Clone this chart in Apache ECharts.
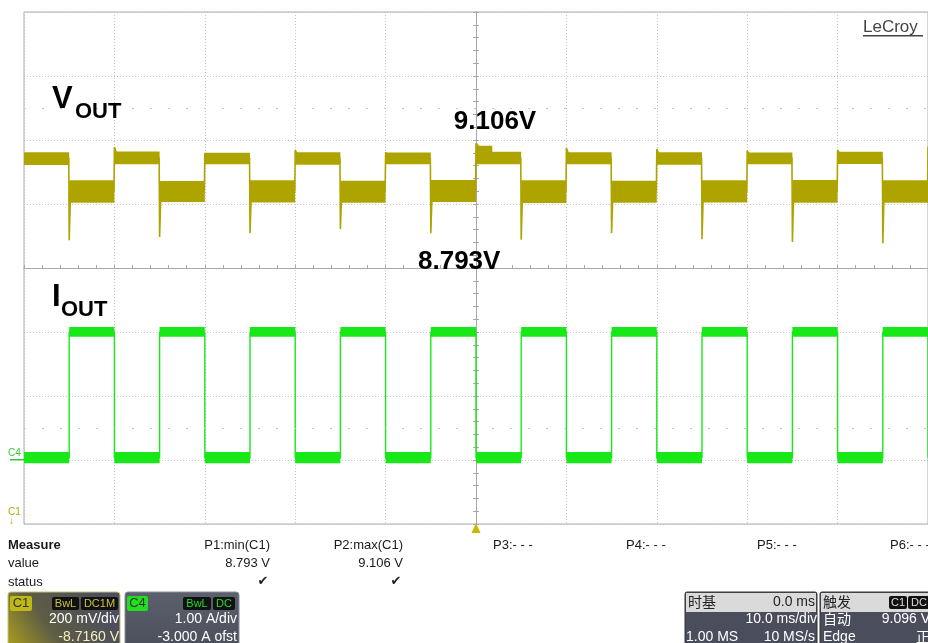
<!DOCTYPE html>
<html>
<head>
<meta charset="utf-8">
<script src="https://cdn.jsdelivr.net/npm/echarts@6/dist/echarts.min.js"></script>
<style>
html, body { margin: 0; padding: 0; background: #fff; }
#scope { width: 928px; height: 643px; }
</style>
</head>
<body>
<div id="scope"></div>
<script>
// time base: 10 ms/div, trigger in the middle of the screen
const timeMin = -50;
const timeMax = 50;
const timeDiv = 10;

// C1 = Vout, 200 mV/div, offset -8.716 V
const vCentre = 8.716;
const vPerDiv = 0.2;
// C4 = Iout, 1 A/div, offset -3 A
const iCentre = 3;
const iPerDiv = 1;

// Vout trace (ms, V)
const vTime = [
  -50, -45.05, -45, -44.85, -40.05, -40, -39.6,
  -35.05, -35, -34.85, -30.05, -30, -29.6,
  -25.05, -25, -24.85, -20.05, -20, -19.6,
  -15.05, -15, -14.85, -10.05, -10, -9.6,
  -5.05, -5, -4.85, -0.05, 0, 0.6, 1.5, 3,
  4.95, 5, 5.15, 9.95, 10, 10.4,
  14.95, 15, 15.15, 19.95, 20, 20.4,
  24.95, 25, 25.15, 29.95, 30, 30.4,
  34.95, 35, 35.15, 39.95, 40, 40.4,
  44.95, 45, 45.15, 49.95, 50
];
const vVolt = [
  9.060, 9.060, 8.803, 8.955, 8.955, 9.094, 9.060,
  9.060, 8.813, 8.955, 8.955, 9.075, 9.060,
  9.060, 8.825, 8.955, 8.955, 9.085, 9.060,
  9.060, 8.838, 8.955, 8.955, 9.078, 9.060,
  9.060, 8.825, 8.955, 8.955, 9.106, 9.085, 9.072, 9.062,
  9.060, 8.804, 8.955, 8.955, 9.091, 9.060,
  9.060, 8.825, 8.955, 8.955, 9.088, 9.060,
  9.060, 8.806, 8.955, 8.955, 9.083, 9.060,
  9.060, 8.797, 8.955, 8.955, 9.085, 9.060,
  9.060, 8.793, 8.955, 8.955, 9.095
];

// Vout noise envelope for each flat part
const vBandStart = [-50, -45, -40, -35, -30, -25, -20, -15, -10, -5, 0, 0, 5, 10, 15, 20, 25, 30, 35, 40, 45];
const vBandEnd   = [-45, -40, -35, -30, -25, -20, -15, -10, -5, 0, 1.8, 5, 10, 15, 20, 25, 30, 35, 40, 45, 50];
const vBandLo    = [9.038, 8.920, 9.040, 8.922, 9.040, 8.921, 9.039, 8.920, 9.040, 8.922, 9.058, 9.040, 8.919, 9.040, 8.920, 9.039, 8.921, 9.040, 8.920, 9.041, 8.920];
const vBandHi    = [9.078, 8.990, 9.080, 8.988, 9.076, 8.990, 9.078, 8.989, 9.077, 8.991, 9.098, 9.079, 8.990, 9.078, 8.989, 9.078, 8.990, 9.077, 8.991, 9.079, 8.990];

// Iout trace: level held from each time to the next (ms, A)
const iTime = [-50, -45, -40, -35, -30, -25, -20, -15, -10, -5, 0, 5, 10, 15, 20, 25, 30, 35, 40, 45, 50];
const iAmp  = [0.03, 2.0, 0.03, 2.0, 0.03, 2.0, 0.03, 2.0, 0.03, 2.0, 0.03, 2.0, 0.03, 2.0, 0.03, 2.0, 0.03, 2.0, 0.03, 2.0, 0.03];

// Iout noise envelope
const iBandLo = [-0.05, 1.925, -0.05, 1.925, -0.05, 1.925, -0.05, 1.925, -0.05, 1.925, -0.05, 1.925, -0.05, 1.925, -0.05, 1.925, -0.05, 1.925, -0.05, 1.925];
const iBandHi = [0.125, 2.080, 0.125, 2.080, 0.125, 2.080, 0.125, 2.080, 0.125, 2.080, 0.125, 2.080, 0.125, 2.080, 0.125, 2.080, 0.125, 2.080, 0.125, 2.080];

// annotations on the screen
const vMaxText = '9.106V';
const vMinText = '8.793V';

const vColor = '#aea400';
const iColor = '#18e818';
const FONT = '"Liberation Sans", Arial, sans-serif';
const CJK = '"Noto Sans CJK SC", sans-serif';

let chart = echarts.init(document.getElementById('scope'), null, { renderer: 'canvas' });

function bandRender(color) {
    return function (params, api) {
        let p0 = api.coord([api.value(0), api.value(3)]);
        let p1 = api.coord([api.value(1), api.value(2)]);
        return {
            type: 'rect',
            shape: { x: p0[0], y: p0[1], width: p1[0] - p0[0], height: p1[1] - p0[1] },
            style: { fill: color }
        };
    };
}

function txt(x, y, text, o) {
    o = o || {};
    return {
        type: 'text', x: x, y: y, z: 10, silent: true,
        style: {
            text: text,
            fill: o.fill || '#1a1a1a',
            font: (o.weight || 'normal') + ' ' + (o.size || 13) + 'px ' + (o.family || FONT),
            textAlign: o.align || 'left',
            textVerticalAlign: o.va || 'middle'
        }
    };
}

function box(x, y, w, h, fill, stroke, r) {
    return {
        type: 'rect', z: 5, silent: true,
        shape: { x: x, y: y, width: w, height: h, r: r || 0 },
        style: { fill: fill, stroke: stroke || null, lineWidth: 1 }
    };
}

let vBand = vBandStart.map((t, k) => [t, vBandEnd[k], vBandLo[k], vBandHi[k]]);
let iBand = iBandLo.map((lo, k) => [iTime[k], iTime[k + 1], lo, iBandHi[k]]);

let centreAxisX = {
    type: 'value', min: timeMin, max: timeMax, interval: timeDiv,
    axisLine: { show: true, onZero: true, onZeroAxisIndex: 0, lineStyle: { color: '#a8a8a8', width: 1 } },
    axisTick: { show: true, inside: true, length: 3, lineStyle: { color: '#a8a8a8' } },
    minorTick: { show: true, splitNumber: 5, length: 3, lineStyle: { color: '#a8a8a8' } },
    axisLabel: { show: false },
    splitLine: { show: true, lineStyle: { color: '#c4c4c4', type: [1, 2] } }
};
let centreAxisY = {
    type: 'value', min: -4, max: 4, interval: 1, position: 'left',
    axisLine: { show: true, onZero: true, onZeroAxisIndex: 0, lineStyle: { color: '#a8a8a8', width: 1 } },
    axisTick: { show: true, inside: true, length: 3, lineStyle: { color: '#a8a8a8' } },
    minorTick: { show: true, splitNumber: 5, length: 3, lineStyle: { color: '#a8a8a8' } },
    axisLabel: { show: false },
    splitLine: { show: true, lineStyle: { color: '#c4c4c4', type: [1, 2] } }
};

let options = {
    animation: false,
    backgroundColor: '#ffffff',

    // screen area: 10 x 8 divisions
    grid: {
        left: 24, right: 0, top: 12, bottom: 119,
        show: true, borderColor: '#aaaaaa', borderWidth: 1
    },

    xAxis: [
        centreAxisX,
        Object.assign({}, centreAxisX, {
            axisTick: { show: true, inside: false, length: 3, lineStyle: { color: '#a8a8a8' } },
            splitLine: { show: false }
        })
    ],

    yAxis: [
        centreAxisY,
        Object.assign({}, centreAxisY, {
            axisTick: { show: true, inside: false, length: 3, lineStyle: { color: '#a8a8a8' } },
            splitLine: { show: false }
        }),
        // C1 volts
        { type: 'value', show: false, min: vCentre - 4 * vPerDiv, max: vCentre + 4 * vPerDiv },
        // C4 amps
        { type: 'value', show: false, min: iCentre - 4 * iPerDiv, max: iCentre + 4 * iPerDiv }
    ],

    series: [
        // faint dotted rows of the screen
        {
            type: 'line', xAxisIndex: 0, yAxisIndex: 0, data: [], silent: true,
            markLine: {
                silent: true, symbol: 'none', label: { show: false },
                lineStyle: { color: '#c8c8c8', type: [2, 16], width: 1 },
                data: [{ yAxis: 2.5 }, { yAxis: -2.5 }]
            }
        },
        {
            type: 'custom', xAxisIndex: 0, yAxisIndex: 2, clip: true,
            renderItem: bandRender(vColor),
            encode: { x: [0, 1], y: [2, 3] },
            data: vBand, z: 3
        },
        {
            type: 'line', xAxisIndex: 0, yAxisIndex: 2,
            data: vTime.map((t, k) => [t, vVolt[k]]),
            showSymbol: false, symbol: 'none',
            lineStyle: { color: vColor, width: 1.6 }, z: 4
        },
        {
            type: 'custom', xAxisIndex: 0, yAxisIndex: 3, clip: true,
            renderItem: bandRender(iColor),
            encode: { x: [0, 1], y: [2, 3] },
            data: iBand, z: 3
        },
        {
            type: 'line', xAxisIndex: 0, yAxisIndex: 3, step: 'end',
            data: iTime.map((t, k) => [t, iAmp[k]]),
            showSymbol: false, symbol: 'none',
            lineStyle: { color: iColor, width: 1.4 }, z: 4,
            // trigger position marker under the screen
            markPoint: {
                silent: true, symbol: 'triangle', symbolSize: [9, 10], symbolOffset: [0, 4],
                itemStyle: { color: '#c9b800' }, label: { show: false },
                data: [{ coord: [0, iCentre - 4 * iPerDiv] }]
            }
        }
    ],

    graphic: [
        // trace names and measured values
        txt(52, 115, 'V', { size: 31, weight: 'bold', va: 'bottom', fill: '#000' }),
        txt(75, 123, 'OUT', { size: 22, weight: 'bold', va: 'bottom', fill: '#000' }),
        txt(52, 313, 'I', { size: 31, weight: 'bold', va: 'bottom', fill: '#000' }),
        txt(61, 321, 'OUT', { size: 22, weight: 'bold', va: 'bottom', fill: '#000' }),
        txt(495, 122, vMaxText, { size: 26, weight: 'bold', align: 'center', fill: '#000' }),
        txt(418, 262, vMinText, { size: 26, weight: 'bold', fill: '#000' }),

        // LeCroy logo
        txt(863, 27, 'LeCroy', { size: 17, fill: '#444' }),
        { type: 'rect', z: 10, silent: true, shape: { x: 863, y: 35, width: 60, height: 1.5 }, style: { fill: '#444' } },

        // channel ground markers on the left edge
        txt(8, 453, 'C4', { size: 10, fill: '#33c833' }),
        { type: 'rect', z: 10, silent: true, shape: { x: 10, y: 459, width: 14, height: 1.5 }, style: { fill: '#33c833' } },
        txt(8, 512, 'C1', { size: 10, fill: '#b8a800' }),
        txt(9, 521, '↓', { size: 10, fill: '#b8a800' }),

        // measurement table
        txt(8, 545, 'Measure', { size: 13, weight: 'bold' }),
        txt(8, 563, 'value', { size: 13 }),
        txt(8, 582, 'status', { size: 13 }),
        txt(270, 545, 'P1:min(C1)', { size: 13, align: 'right' }),
        txt(403, 545, 'P2:max(C1)', { size: 13, align: 'right' }),
        txt(270, 563, '8.793 V', { size: 13, align: 'right' }),
        txt(403, 563, '9.106 V', { size: 13, align: 'right' }),
        txt(263, 582, '✔', { size: 13, align: 'center', family: '"DejaVu Sans"', fill: '#222' }),
        txt(396, 582, '✔', { size: 13, align: 'center', family: '"DejaVu Sans"', fill: '#222' }),
        txt(493, 545, 'P3:- - -', { size: 13 }),
        txt(626, 545, 'P4:- - -', { size: 13 }),
        txt(757, 545, 'P5:- - -', { size: 13 }),
        txt(890, 545, 'P6:- - -', { size: 13 }),

        // C1 channel box
        {
            type: 'rect', z: 5, silent: true,
            shape: { x: 8, y: 592, width: 112, height: 60, r: 3 },
            style: {
                fill: new echarts.graphic.LinearGradient(0, 1, 0.8, 0, [
                    { offset: 0, color: '#b0a41a' },
                    { offset: 0.45, color: '#5e5c44' },
                    { offset: 1, color: '#4a4e5e' }
                ]),
                stroke: '#c8c070', lineWidth: 1
            }
        },
        box(10, 596, 22, 15, '#c0b818', null, 2),
        txt(21, 603.5, 'C1', { size: 13, align: 'center', fill: '#333' }),
        box(52, 597, 27, 13, '#111', null, 2),
        txt(65.5, 603.5, 'BwL', { size: 11, align: 'center', fill: '#c8c040' }),
        box(81, 597, 37, 13, '#111', null, 2),
        txt(99.5, 603.5, 'DC1M', { size: 11, align: 'center', fill: '#c8c040' }),
        txt(119, 619, '200 mV/div', { size: 14, align: 'right', fill: '#fff' }),
        txt(119, 637, '-8.7160 V', { size: 14, align: 'right', fill: '#f4f0c0' }),

        // C4 channel box
        {
            type: 'rect', z: 5, silent: true,
            shape: { x: 125, y: 592, width: 114, height: 60, r: 3 },
            style: {
                fill: new echarts.graphic.LinearGradient(0, 0, 0, 1, [
                    { offset: 0, color: '#5c606c' },
                    { offset: 1, color: '#4a4e5a' }
                ]),
                stroke: '#8a8e98', lineWidth: 1
            }
        },
        box(127, 596, 21, 15, '#20e020', null, 2),
        txt(137.5, 603.5, 'C4', { size: 13, align: 'center', fill: '#333' }),
        box(183, 597, 28, 13, '#111', null, 2),
        txt(197, 603.5, 'BwL', { size: 11, align: 'center', fill: '#22dd22' }),
        box(213, 597, 22, 13, '#111', null, 2),
        txt(224, 603.5, 'DC', { size: 11, align: 'center', fill: '#22dd22' }),
        txt(237, 619, '1.00 A/div', { size: 14, align: 'right', fill: '#fff' }),
        txt(237, 637, '-3.000 A ofst', { size: 14, align: 'right', fill: '#fff' }),

        // time base box
        box(685, 592, 132, 60, '#4a4e5c', '#333', 2),
        box(686, 593, 130, 19, '#dadada', null, 0),
        txt(688, 602, '时基', { size: 14, family: CJK, fill: '#222' }),
        txt(815, 602, '0.0 ms', { size: 14, align: 'right', fill: '#222' }),
        txt(817, 619, '10.0 ms/div', { size: 14, align: 'right', fill: '#fff' }),
        txt(686, 637, '1.00 MS', { size: 14, fill: '#fff' }),
        txt(815, 637, '10 MS/s', { size: 14, align: 'right', fill: '#fff' }),

        // trigger box
        box(820, 592, 112, 60, '#4a4e5c', '#333', 2),
        box(821, 593, 110, 19, '#dadada', null, 0),
        txt(823, 602, '触发', { size: 14, family: CJK, fill: '#222' }),
        box(889, 596, 18, 13, '#111', null, 2),
        txt(898, 602.5, 'C1', { size: 11, align: 'center', fill: '#ddd' }),
        box(908, 596, 22, 13, '#111', null, 2),
        txt(919, 602.5, 'DC', { size: 11, align: 'center', fill: '#ddd' }),
        txt(823, 619, '自动', { size: 14, family: CJK, fill: '#fff' }),
        txt(930, 619, '9.096 V', { size: 14, align: 'right', fill: '#fff' }),
        txt(823, 637, 'Edge', { size: 14, fill: '#fff' }),
        txt(930, 637, '正', { size: 14, family: CJK, align: 'right', fill: '#fff' })
    ]
};

chart.setOption(options);
</script>
</body>
</html>
